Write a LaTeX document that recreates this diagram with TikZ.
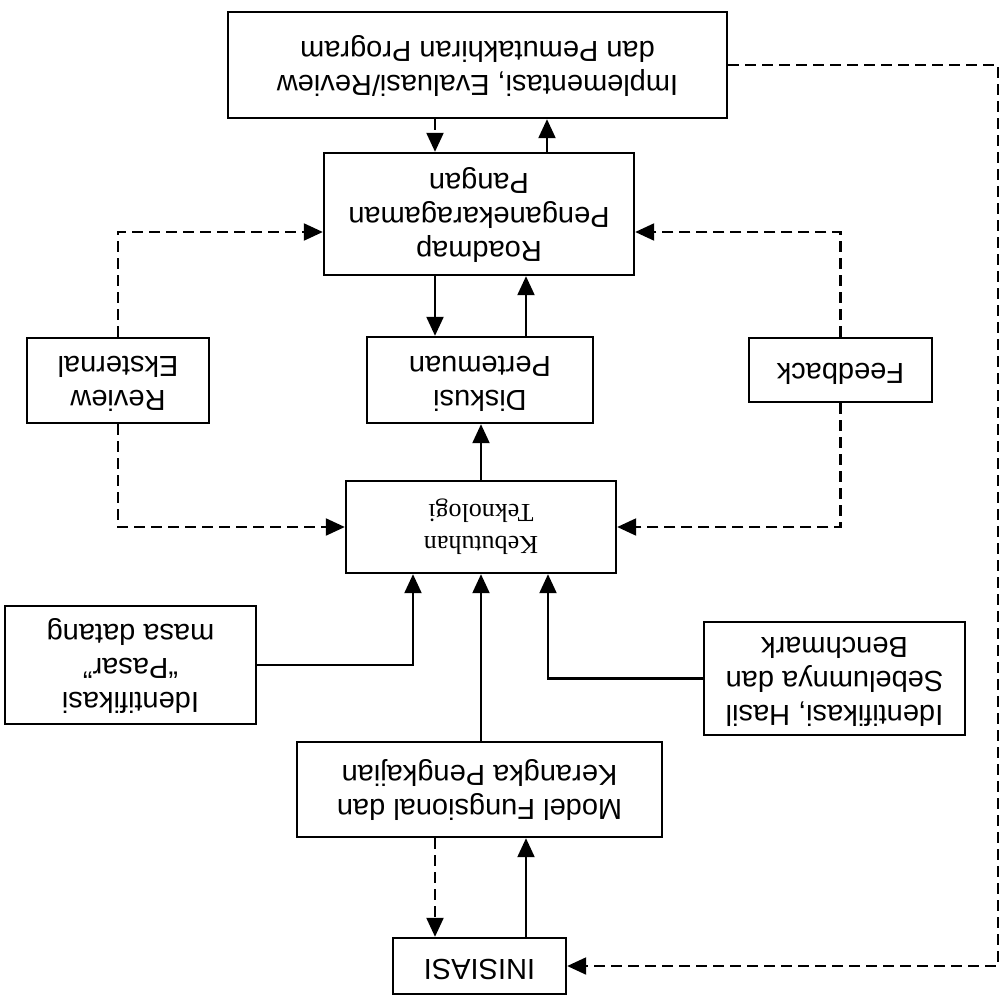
\documentclass[tikz,border=0pt]{standalone}
\usepackage{fontspec}
\setmainfont{Liberation Sans}
\newfontfamily\serifface{Liberation Serif}
\usepackage{graphicx}
\usetikzlibrary{arrows.meta}

% text set upside down, centred, one or more lines
\newcommand{\upside}[1]{\rotatebox[origin=c]{180}{\begin{tabular}{@{}c@{}}#1\end{tabular}}}

\begin{document}
\begin{tikzpicture}[x=1pt,y=-1pt,
  box/.style={draw, line width=2.4pt, rectangle, inner sep=0pt,
    font=\fontsize{29}{34}\selectfont},
  link/.style={line width=2.2pt, -{Triangle[length=19pt,width=17pt]}},
  dlink/.style={link, dash pattern=on 11pt off 6pt}]
\useasboundingbox (0,0) rectangle (1001,996);

% boxes
\node[box, minimum width=499pt, minimum height=106pt] (impl) at (477.5,65)
  {\upside{Implementasi, Evaluasi/Review\\dan Pemutakhiran Program}};
\node[box, minimum width=310pt, minimum height=122pt] (road) at (479,214)
  {\upside{Roadmap\\Penganekaragaman\\Pangan}};
\node[box, minimum width=182pt, minimum height=85pt] (review) at (118,380.5)
  {\upside{Review\\Eksternal}};
\node[box, minimum width=226pt, minimum height=86pt] (disk) at (480,380)
  {\upside{Diskusi\\Pertemuan}};
\node[box, minimum width=183pt, minimum height=64pt] (feed) at (840.5,370)
  {\upside{Feedback}};
\node[box, minimum width=270pt, minimum height=92pt,
  font=\fontsize{26}{32}\selectfont\serifface] (keb) at (481,527)
  {\upside{Kebutuhan\\Teknologi}};
\node[box, minimum width=251pt, minimum height=118pt] (pasar) at (130.5,665)
  {\upside{Identifikasi\\``Pasar''\\masa datang}};
\node[box, minimum width=261pt, minimum height=113pt] (hasil) at (834.5,678.5)
  {\upside{Identifikasi, Hasil\\Sebelumnya dan\\Benchmark}};
\node[box, minimum width=365pt, minimum height=95pt] (model) at (479.5,789.5)
  {\upside{Model Fungsional dan\\Kerangka Pengkajian}};
\node[box, minimum width=173pt, minimum height=56pt] (inis) at (479.5,966)
  {\upside{INISIASI}};

% columns and rows used by the connectors
\coordinate (cl) at (435,0);
\coordinate (cm) at (526,0);
\coordinate (ct) at (547,0);
\coordinate (cc) at (481,0);
\coordinate (cpl) at (413,0);
\coordinate (cpr) at (548,0);
\coordinate (cr) at (998,0);
\coordinate (rr) at (0,232);

% top loop
\draw[dlink] (impl.south -| cl) -- (road.north -| cl);
\draw[link] (road.north -| ct) -- (impl.south -| ct);
\draw[link] (road.south -| cl) -- (disk.north -| cl);
\draw[link] (disk.north -| cm) -- (road.south -| cm);
\draw[link] (keb.north -| cc) -- (disk.south -| cc);

% side feedback paths
\draw[dlink] (review.north) |- (road.west |- rr);
\draw[dlink] (feed.north) |- (road.east |- rr);
\draw[dlink] (review.south) |- (keb.west);
\draw[dlink] (feed.south) |- (keb.east);

% inputs into Kebutuhan Teknologi
\draw[link] (pasar.east) -| (keb.south -| cpl);
\draw[link] (model.north -| cc) -- (keb.south -| cc);
\draw[link] (hasil.west) -| (keb.south -| cpr);

% start of the cycle
\draw[dlink] (model.south -| cl) -- (inis.north -| cl);
\draw[link] (inis.north -| cm) -- (model.south -| cm);
\draw[dlink] (impl.east) -- (impl.east -| cr) -- (inis.east -| cr) -- (inis.east);
\end{tikzpicture}
\end{document}
